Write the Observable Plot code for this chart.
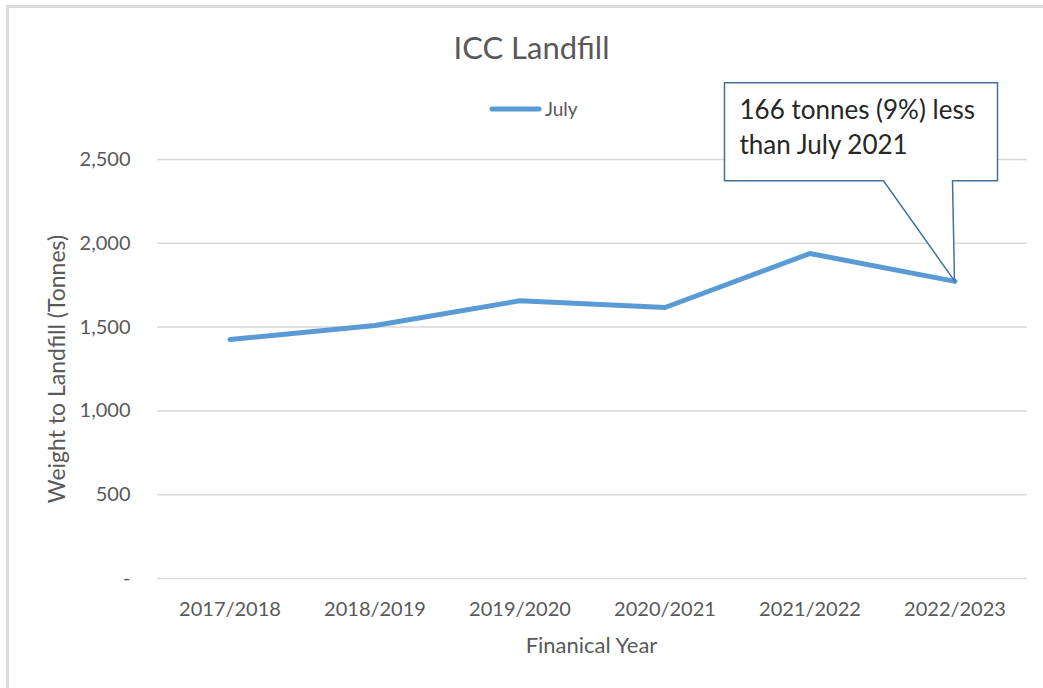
<!DOCTYPE html>
<html>
<head>
<meta charset="utf-8">
<script src="https://cdn.jsdelivr.net/npm/d3@7"></script>
<script src="https://cdn.jsdelivr.net/npm/@observablehq/plot@0.6"></script>
<style>
  html, body { margin: 0; padding: 0; background: #fff; }
  #wrap { position: relative; width: 1043px; height: 688px; overflow: hidden; }
  #border { position: absolute; left: 6px; top: 5px; right: -10px; bottom: -10px;
            border-left: 3px solid #dcdcdc; border-top: 3px solid #dcdcdc; pointer-events: none; }
  svg { font-family: Lato, "Open Sans", sans-serif; }
</style>
</head>
<body>
<div id="wrap"><div id="border"></div></div>
<script>
const years = ["2017/2018", "2018/2019", "2019/2020", "2020/2021", "2021/2022", "2022/2023"];
const july = [1426, 1510, 1657, 1617, 1939, 1773];
const yTicks = [0, 500, 1000, 1500, 2000, 2500];
const title = "ICC Landfill";
const seriesName = "July";
const xTitle = "Finanical Year";
const yTitle = "Weight to Landfill (Tonnes)";
const calloutLines = ["166 tonnes (9%) less", "than July 2021"];
const calloutIndex = 5;

const data = years.map((y, i) => ({year: y, value: july[i]}));
const textColor = "#595959";
const lineColor = "#5b9bd5";

const plot = Plot.plot({
  width: 1043,
  height: 688,
  marginLeft: 157,
  marginRight: 16,
  marginTop: 159,
  marginBottom: 110,
  style: {fontFamily: "Lato, 'Open Sans', sans-serif", color: textColor, background: "transparent"},
  x: {type: "band", domain: years, padding: 0},
  y: {domain: [0, 2500]},
  marks: [
    Plot.ruleY(yTicks, {stroke: "#d9d9d9", strokeWidth: 1.5}),
    Plot.axisY({ticks: yTicks, tickSize: 0, tickPadding: 27, fontSize: 20, fill: textColor,
      tickFormat: d => d === 0 ? "-" : d3.format(",")(d), label: null}),
    Plot.axisX({tickSize: 0, tickPadding: 23, fontSize: 20, fill: textColor, label: null}),
    Plot.line(data, {x: "year", y: "value", stroke: lineColor, strokeWidth: 5,
      strokeLinecap: "round", strokeLinejoin: "round"}),
    Plot.text([title], {frameAnchor: "top", dx: -61, dy: -123, fontSize: 31, fill: textColor}),
    Plot.text([xTitle], {frameAnchor: "bottom", dx: -1, dy: 74, fontSize: 22, fill: textColor}),
    Plot.text([yTitle], {frameAnchor: "left", textAnchor: "middle", dx: -100, dy: 0, rotate: -90, fontSize: 23, fill: textColor})
  ]
});

document.getElementById("wrap").prepend(plot);

const svg = d3.select(plot);
const xs = plot.scale("x"), ys = plot.scale("y");
const bw = xs.bandwidth;

// Legend
const lg = svg.append("g");
lg.append("line").attr("x1", 492).attr("x2", 539).attr("y1", 109).attr("y2", 109)
  .attr("stroke", lineColor).attr("stroke-width", 5).attr("stroke-linecap", "round");
lg.append("text").attr("x", 545).attr("y", 109).attr("dy", "0.35em").attr("text-anchor", "start")
  .attr("font-size", 19).attr("fill", textColor).text(seriesName);

// Callout
const tipX = xs.apply(years[calloutIndex]) + bw / 2;
const tipY = ys.apply(july[calloutIndex]);
const boxL = tipX - 230, boxR = tipX + 43, boxT = tipY - 198, boxB = tipY - 100;
const cg = svg.append("g");
cg.append("path")
  .attr("d", `M${boxL},${boxT}H${boxR}V${boxB}H${tipX - 2}L${tipX},${tipY}L${tipX - 71},${boxB}H${boxL}Z`)
  .attr("fill", "#fff").attr("stroke", "#41719c").attr("stroke-width", 1.5);
calloutLines.forEach((t, i) => {
  cg.append("text").attr("x", boxL + 15).attr("y", boxT + 27 + i * 35).attr("dy", "0.35em")
    .attr("text-anchor", "start").attr("font-size", 26).attr("fill", "#262626").text(t);
});
</script>
</body>
</html>
